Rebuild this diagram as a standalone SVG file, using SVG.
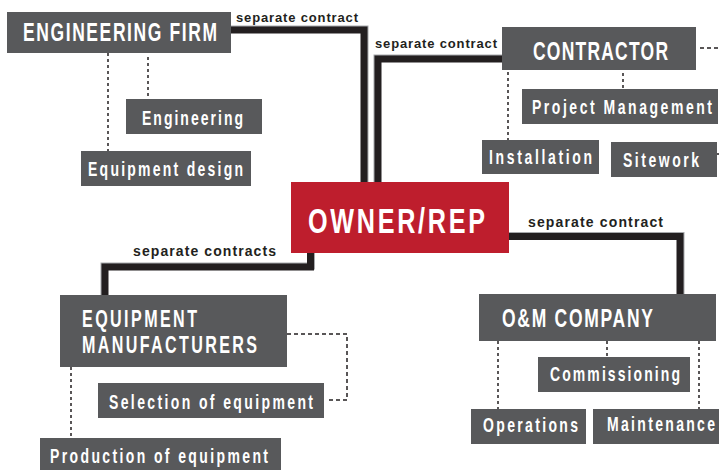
<svg xmlns="http://www.w3.org/2000/svg" width="719" height="470" viewBox="0 0 719 470">
<style>
.box{fill:#58595b}
.red{fill:#be1e2d}
.h{font-family:"Liberation Sans",Arial,sans-serif;font-weight:bold;font-size:25px;fill:#ffffff}
.h2{font-family:"Liberation Sans",Arial,sans-serif;font-weight:bold;font-size:23px;fill:#ffffff}
.big{font-family:"Liberation Sans",Arial,sans-serif;font-weight:bold;font-size:36px;fill:#ffffff}
.s{font-family:"Liberation Sans",Arial,sans-serif;font-weight:bold;font-size:20px;fill:#ffffff}
.lab{font-family:"Liberation Sans",Arial,sans-serif;font-weight:bold;font-size:13px;fill:#231f20}
.lab2{font-family:"Liberation Sans",Arial,sans-serif;font-weight:bold;font-size:14px;fill:#231f20}
.thick{fill:none;stroke:#231f20;stroke-width:7;stroke-linejoin:miter}
.edge{fill:none;stroke:#a7a9ac;stroke-width:7;stroke-linejoin:miter}
.dot{fill:none;stroke:#231f20;stroke-width:1.5;stroke-dasharray:3 3}
.dash{fill:none;stroke:#231f20;stroke-width:1.5;stroke-dasharray:4 3}
</style>
<g id="connectors">
  <polyline class="edge" points="231,29 365,29 365,182"/>
  <polyline class="thick" points="231,30 364,30 364,182"/>
  <polyline class="edge" points="502,58 377,58 377,182"/>
  <polyline class="thick" points="502,59 378,59 378,182"/>
  <polyline class="edge" points="311.5,253 311.5,266 104,266 104,295"/>
  <polyline class="thick" points="310.5,253 310.5,267 105,267 105,295"/>
  <polyline class="edge" points="509,235.5 681,235.5 681,294"/>
  <polyline class="thick" points="509,236.5 680,236.5 680,294"/>
  <line class="dot" x1="108" y1="53" x2="108" y2="151"/>
  <line class="dot" x1="148" y1="57" x2="148" y2="99"/>
  <line class="dot" x1="508" y1="72" x2="508" y2="140"/>
  <line class="dot" x1="623" y1="73" x2="623" y2="89"/>
  <line class="dash" x1="700" y1="48" x2="719" y2="48"/>
  <line class="dot" x1="717" y1="154" x2="719" y2="154"/>
  <line class="dot" x1="71" y1="367" x2="71" y2="438"/>
  <polyline class="dash" points="287,334 347,334 347,400 327,400"/>
  <line class="dot" x1="498" y1="341" x2="498" y2="409"/>
  <line class="dot" x1="607" y1="341" x2="607" y2="357"/>
  <line class="dot" x1="699" y1="341" x2="699" y2="409"/>
  <text class="lab" x="236" y="22" textLength="122" lengthAdjust="spacing">separate contract</text>
  <text class="lab" x="375" y="48" textLength="122" lengthAdjust="spacing">separate contract</text>
  <text class="lab2" x="133" y="256" textLength="143" lengthAdjust="spacing">separate contracts</text>
  <text class="lab2" x="528" y="227" textLength="135" lengthAdjust="spacing">separate contract</text>
</g>
<g id="engineering-firm">
  <rect class="box" x="7" y="12" width="224" height="41"/>
  <text class="h" transform="translate(23,41) scale(0.7,1)" textLength="277.1" lengthAdjust="spacing">ENGINEERING FIRM</text>
</g>
<g id="engineering">
  <rect class="box" x="126" y="99" width="136" height="35"/>
  <text class="s" transform="translate(142,125) scale(0.7,1)" textLength="144.3" lengthAdjust="spacing">Engineering</text>
</g>
<g id="equipment-design">
  <rect class="box" x="81" y="151" width="170" height="35"/>
  <text class="s" transform="translate(88,175.5) scale(0.7,1)" textLength="221.4" lengthAdjust="spacing">Equipment design</text>
</g>
<g id="contractor">
  <rect class="box" x="502" y="27" width="194" height="43"/>
  <text class="h" transform="translate(533,60) scale(0.7,1)" textLength="192.9" lengthAdjust="spacing">CONTRACTOR</text>
</g>
<g id="project-management">
  <rect class="box" x="522" y="89" width="196" height="35"/>
  <text class="s" transform="translate(532,113.5) scale(0.7,1)" textLength="257.1" lengthAdjust="spacing">Project Management</text>
</g>
<g id="installation">
  <rect class="box" x="482" y="140" width="117" height="34"/>
  <text class="s" transform="translate(489,164) scale(0.7,1)" textLength="147.1" lengthAdjust="spacing">Installation</text>
</g>
<g id="sitework">
  <rect class="box" x="611" y="142" width="106" height="35"/>
  <text class="s" transform="translate(623,167) scale(0.7,1)" textLength="108.6" lengthAdjust="spacing">Sitework</text>
</g>
<g id="owner-rep">
  <rect class="red" x="291" y="182" width="218" height="71"/>
  <text class="big" transform="translate(308,233) scale(0.7,1)" textLength="252.9" lengthAdjust="spacing">OWNER/REP</text>
</g>
<g id="equipment-manufacturers">
  <rect class="box" x="60" y="295" width="227" height="72"/>
  <text class="h2" transform="translate(82,326.5) scale(0.7,1)" textLength="164.3" lengthAdjust="spacing">EQUIPMENT</text>
  <text class="h2" transform="translate(82,353) scale(0.7,1)" textLength="250" lengthAdjust="spacing">MANUFACTURERS</text>
</g>
<g id="selection-of-equipment">
  <rect class="box" x="98" y="383" width="226" height="35"/>
  <text class="s" transform="translate(109,409) scale(0.7,1)" textLength="291.4" lengthAdjust="spacing">Selection of equipment</text>
</g>
<g id="production-of-equipment">
  <rect class="box" x="40" y="438" width="241" height="32"/>
  <text class="s" transform="translate(50,463) scale(0.7,1)" textLength="311.4" lengthAdjust="spacing">Production of equipment</text>
</g>
<g id="om-company">
  <rect class="box" x="479" y="294" width="237" height="47"/>
  <text class="h" transform="translate(502,327) scale(0.7,1)" textLength="215.7" lengthAdjust="spacing">O&amp;M COMPANY</text>
</g>
<g id="commissioning">
  <rect class="box" x="538" y="357" width="152" height="35"/>
  <text class="s" transform="translate(550,381) scale(0.7,1)" textLength="185.7" lengthAdjust="spacing">Commissioning</text>
</g>
<g id="operations">
  <rect class="box" x="471" y="409" width="115" height="35"/>
  <text class="s" transform="translate(483,432) scale(0.7,1)" textLength="135.7" lengthAdjust="spacing">Operations</text>
</g>
<g id="maintenance">
  <rect class="box" x="593" y="409" width="126" height="35"/>
  <text class="s" transform="translate(607,431) scale(0.7,1)" textLength="154.3" lengthAdjust="spacing">Maintenance</text>
</g>
</svg>
